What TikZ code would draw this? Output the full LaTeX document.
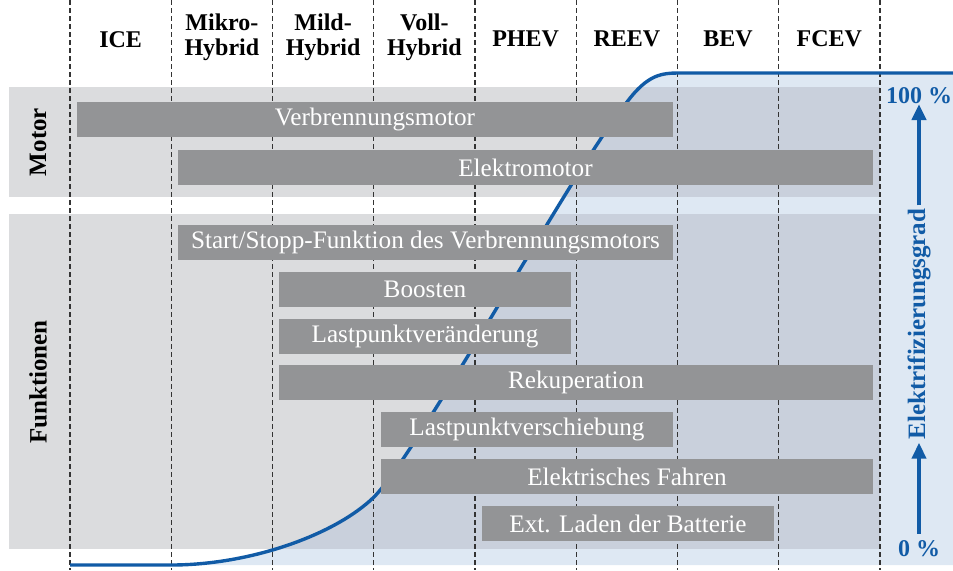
\documentclass[tikz,border=0pt]{standalone}
\usepackage{fontspec}
\setmainfont{Liberation Serif}
\usetikzlibrary{arrows.meta}

\definecolor{bandgray}{RGB}{219,220,222}
\definecolor{bargray}{RGB}{147,148,150}
\definecolor{elblue}{RGB}{17,91,166}
\definecolor{paleblue}{RGB}{222,232,243}
\definecolor{mixgray}{RGB}{201,208,220}

% S-curve of the degree of electrification
\newcommand{\elcurve}{(70,565) -- (171,565) .. controls (250,565) and (335,535) .. (374,497)
  .. controls (420,450) and (572,170) .. (627,102) .. controls (648,74) and (662,73) .. (680,73) -- (953,73)}

\begin{document}
\begin{tikzpicture}[
    x=0.5pt, y=-0.5pt,
    every node/.style={font=\fontsize{12.6}{13}\selectfont},
    head/.style={font=\fontsize{12}{12.5}\selectfont\bfseries, align=center},
    side/.style={font=\fontsize{12.5}{14}\selectfont\bfseries, rotate=90},
    bar/.style={fill=bargray, text=white, minimum height=17.5pt, inner sep=0pt},
    pct/.style={font=\fontsize{12}{13}\selectfont\bfseries, text=elblue, inner sep=0pt},
    colline/.style={dash pattern=on 2.5pt off 1.5pt, line width=0.6pt, black!80},
    gradarrow/.style={-{Triangle[length=8pt, width=7pt]}, line width=2.4pt, elblue}
]
\useasboundingbox (0,0) rectangle (953,570);

% background bands
\fill[bandgray] (9,87) rectangle (880,197);
\fill[bandgray] (9,214) rectangle (880,549);
\fill[paleblue] \elcurve -- (953,565) -- cycle;
\begin{scope}
  \clip \elcurve -- (953,565) -- cycle;
  \fill[mixgray] (9,87) rectangle (880,197);
  \fill[mixgray] (9,214) rectangle (880,549);
\end{scope}

% column borders
\draw[colline] (70,0) -- (70,570);
\draw[colline] (171.25,0) -- (171.25,570);
\draw[colline] (272.5,0) -- (272.5,570);
\draw[colline] (373.75,0) -- (373.75,570);
\draw[colline] (475,0) -- (475,570);
\draw[colline] (576.25,0) -- (576.25,570);
\draw[colline] (677.5,0) -- (677.5,570);
\draw[colline] (778.75,0) -- (778.75,570);
\draw[colline] (880,0) -- (880,570);

\draw[elblue, line width=1.7pt] \elcurve;

% headers
\node[head] (ice) at (120.6,40) {ICE};
\node[head] (mikro) at (221.9,37) {Mikro-\\Hybrid};
\node[head] (mild) at (323.1,37) {Mild-\\Hybrid};
\node[head] (voll) at (424.4,37) {Voll-\\Hybrid};
\node[head] (phev) at (525.6,39) {PHEV};
\node[head] (reev) at (626.9,39) {REEV};
\node[head] (bev) at (728.1,39) {BEV};
\node[head] (fcev) at (829.4,39) {FCEV};

\node[side] (motor) at (38,142) {Motor};
\node[side] (funktionen) at (38,382) {Funktionen};

% bars
\node[bar, minimum width=298pt] (vkm) at (375,119.5) {Verbrennungsmotor};
\node[bar, minimum width=347.5pt] (em) at (525.5,167.5) {Elektromotor};
\node[bar, minimum width=247.5pt] (startstopp) at (425.5,242.5) {Start/Stopp-Funktion des Verbrennungsmotors};
\node[bar, minimum width=146pt] (boosten) at (425,289.5) {Boosten};
\node[bar, minimum width=146pt] (lpveraend) at (425,336.5) {Lastpunktveränderung};
\node[bar, minimum width=297pt] (reku) at (576,382.5) {Rekuperation};
\node[bar, minimum width=146pt] (lpversch) at (527,429.5) {Lastpunktverschiebung};
\node[bar, minimum width=246pt] (efahren) at (627,476.5) {Elektrisches Fahren};
\node[bar, minimum width=146pt] (laden) at (628,523.5) {Ext. Laden der Batterie};

% electrification axis
\node[pct] (top) at (919,95.5) {100 \%};
\node[pct] (bottom) at (919,548.5) {0 \%};
\node[side, text=elblue, inner sep=1.5pt] (grad) at (919,324) {Elektrifizierungsgrad};
\draw[gradarrow] (grad.east) -- (top.south);
\draw[gradarrow, shorten <=3pt] (bottom.north) -- (grad.west);
\end{tikzpicture}
\end{document}
